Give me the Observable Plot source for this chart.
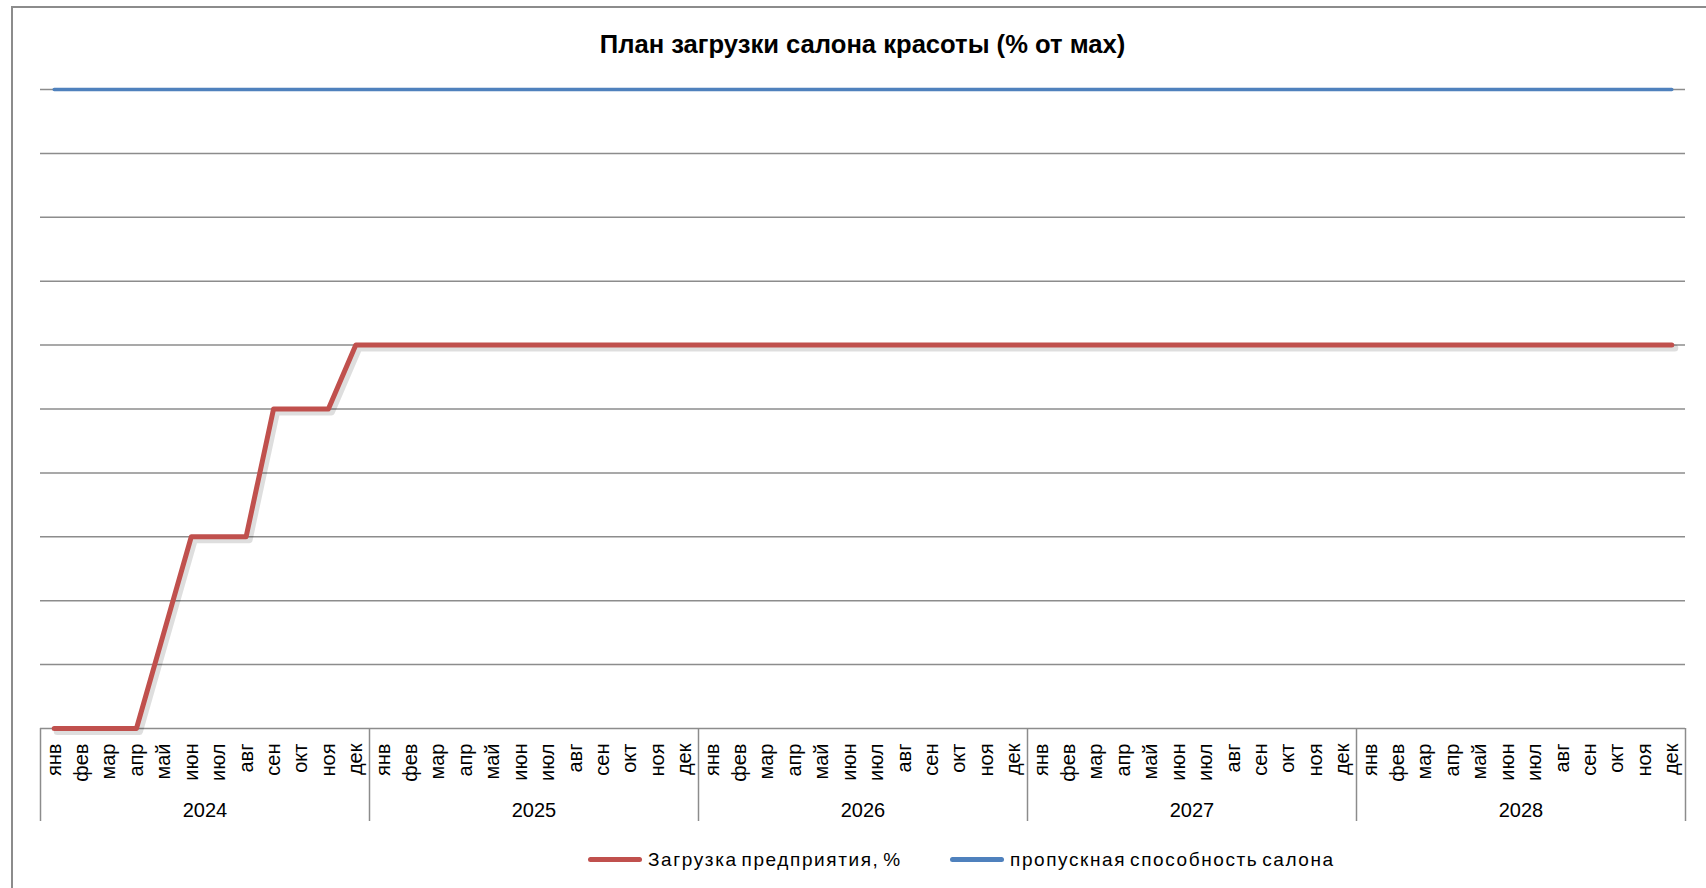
<!DOCTYPE html>
<html><head><meta charset="utf-8">
<script src="https://cdn.jsdelivr.net/npm/d3@7"></script>
<script src="https://cdn.jsdelivr.net/npm/@observablehq/plot@0.6"></script>
<style>
html,body{margin:0;padding:0;background:#fff;overflow:hidden;}
#wrap{position:relative;width:1706px;height:888px;overflow:hidden;font-family:"Liberation Sans",Arial,sans-serif;color:#000;}
#frame{position:absolute;left:11px;top:6px;width:1760px;height:960px;border:2px solid #8c8c8c;box-sizing:border-box;}
#title{position:absolute;left:40px;width:1645px;top:28px;line-height:32px;text-align:center;font-weight:bold;font-size:25.6px;}
#chart{position:absolute;left:0;top:0;}
.lg{position:absolute;font-size:19px;line-height:24px;top:848px;letter-spacing:1.6px;word-spacing:-3px;white-space:nowrap;}
.sw{position:absolute;top:857px;height:5px;width:54px;border-radius:3px;}
</style></head>
<body><div id="wrap">
<div id="frame"></div>
<div id="title">План загрузки салона красоты (% от мах)</div>
<div id="chart"></div>
<div class="sw" style="left:588px;background:#C0504D"></div>
<div class="lg" style="left:648px">Загрузка предприятия, %</div>
<div class="sw" style="left:950px;background:#4F81BD"></div>
<div class="lg" style="left:1010px">пропускная способность салона</div>
</div>
<script>
const months = ["янв","фев","мар","апр","май","июн","июл","авг","сен","окт","ноя","дек"];
const years = [2024, 2025, 2026, 2027, 2028];
const load = [
  0, 0, 0, 0, 15, 30, 30, 30, 50, 50, 50, 60,
  60, 60, 60, 60, 60, 60, 60, 60, 60, 60, 60, 60,
  60, 60, 60, 60, 60, 60, 60, 60, 60, 60, 60, 60,
  60, 60, 60, 60, 60, 60, 60, 60, 60, 60, 60, 60,
  60, 60, 60, 60, 60, 60, 60, 60, 60, 60, 60, 60
];
const capacity = [
  100, 100, 100, 100, 100, 100, 100, 100, 100, 100, 100, 100,
  100, 100, 100, 100, 100, 100, 100, 100, 100, 100, 100, 100,
  100, 100, 100, 100, 100, 100, 100, 100, 100, 100, 100, 100,
  100, 100, 100, 100, 100, 100, 100, 100, 100, 100, 100, 100,
  100, 100, 100, 100, 100, 100, 100, 100, 100, 100, 100, 100
];
const yTicks = [10, 20, 30, 40, 50, 60, 70, 80, 90, 100];

const rows = [];
years.forEach((yr, yi) => months.forEach((m, mi) => {
  const i = yi * 12 + mi;
  rows.push({pos: i + 0.5, month: m, year: yr, load: load[i], capacity: capacity[i]});
}));
const monthTicks = rows.map(d => d.pos);
const yearTicks = years.map((y, i) => i * 12 + 6);
const bounds = [0, ...years.map((y, i) => (i + 1) * 12)];
const grid = "#8c8c8c";

const chart = Plot.plot({
  width: 1706, height: 888,
  marginLeft: 40, marginRight: 21, marginTop: 89, marginBottom: 160,
  style: {fontFamily: "Liberation Sans, Arial, sans-serif", background: "transparent", color: "#000"},
  x: {type: "linear", domain: [0, 60]},
  y: {domain: [0, 100], axis: null},
  marks: [
    Plot.gridY(yTicks, {stroke: grid, strokeOpacity: 1, strokeWidth: 1.5}),
    Plot.ruleY([0], {stroke: grid, strokeWidth: 1.5}),
    Plot.axisX(bounds, {tickSize: 93, tickFormat: () => "", stroke: grid, strokeWidth: 1.5, label: null}),
    Plot.axisX(monthTicks, {tickSize: 0, tickPadding: 15, tickRotate: -90, fontSize: 20, fill: "#000",
      tickFormat: p => months[Math.floor(p) % 12], label: null}),
    Plot.axisX(yearTicks, {tickSize: 0, tickPadding: 74, fontSize: 20, fill: "#000",
      tickFormat: p => String(years[Math.floor(p / 12)]), label: null}),
    Plot.line(rows, {x: "pos", y: "load", stroke: "#000", strokeOpacity: 0.13, strokeWidth: 7, dx: 3, dy: 3}),
    Plot.line(rows, {x: "pos", y: "capacity", stroke: "#4F81BD", strokeWidth: 3.5}),
    Plot.line(rows, {x: "pos", y: "load", stroke: "#C0504D", strokeWidth: 5})
  ]
});
document.getElementById("chart").appendChild(chart);
</script>
</body></html>
